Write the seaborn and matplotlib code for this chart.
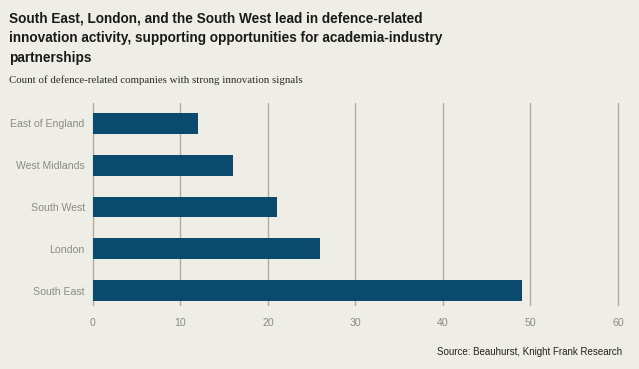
import matplotlib
matplotlib.use("Agg")
import matplotlib.pyplot as plt
import seaborn as sns
import pandas as pd

# data
regions = ["East of England", "West Midlands", "South West", "London", "South East"]
counts = [12, 16, 21, 26, 49]
x_ticks = [0, 10, 20, 30, 40, 50, 60]

bg = "#efeee6"
bar_col = "#0b4a6f"

sns.set_style("white")
plt.rcParams["font.family"] = ["Liberation Sans", "DejaVu Sans"]

df = pd.DataFrame({"region": regions, "count": counts})

fig = plt.figure(figsize=(6.39, 3.69), dpi=100, facecolor=bg)
ax = fig.add_axes([0.1455, 0.173, 0.8215, 0.548])
ax.set_facecolor(bg)

sns.barplot(data=df, y="region", x="count", orient="h", color=bar_col,
            width=0.5, saturation=1, linewidth=0, ax=ax, zorder=3)

ax.set_xlim(0, 60)
ax.set_ylim(4.35, -0.49)
ax.set_xticks(x_ticks)
for t in x_ticks:
    ax.axvline(t, color="#aeaba1", lw=1, zorder=1, clip_on=False)
ax.set_xlabel("")
ax.set_ylabel("")
for s in ax.spines.values():
    s.set_visible(False)
ax.tick_params(axis="both", length=0, labelsize=7.6, labelcolor="#8a8a8a")
ax.tick_params(axis="x", pad=9)
ax.tick_params(axis="y", pad=6)

fig.text(0.014, 0.968,
         "South East, London, and the South West lead in defence-related\n"
         "innovation activity, supporting opportunities for academia-industry\n"
         "partnerships",
         fontsize=9.8, fontweight="bold", color="#1a1a1a", va="top",
         linespacing=1.5)
fig.text(0.014, 0.782, "Count of defence-related companies with strong innovation signals",
         fontsize=7.8, family=["Liberation Serif", "DejaVu Serif"], color="#2a2a2a",
         va="center")
fig.text(0.974, 0.046, "Source: Beauhurst, Knight Frank Research",
         fontsize=7, color="#222222", ha="right", va="center")

fig.savefig("out.png", dpi=100, facecolor=bg)
